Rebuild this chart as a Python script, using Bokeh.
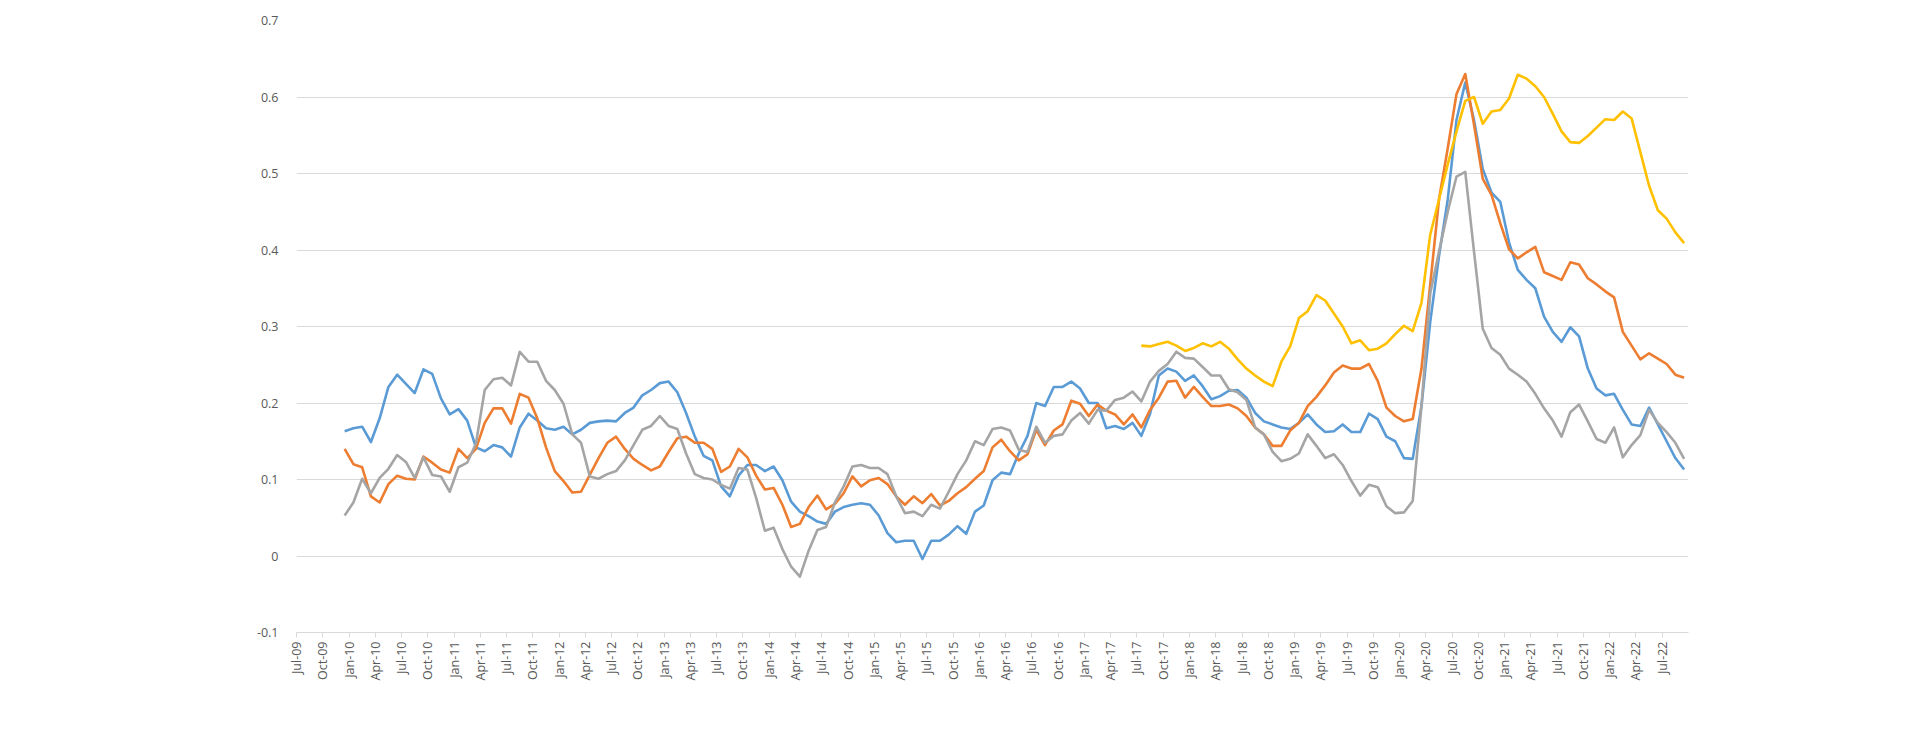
import math
from bokeh.plotting import figure
from bokeh.models import Legend, LegendItem, FixedTicker, Range1d
from bokeh.embed import file_html
from bokeh.resources import INLINE

# month labels: index 0 = Jul-09
MONTHS = ["Jan", "Feb", "Mar", "Apr", "May", "Jun", "Jul", "Aug", "Sep", "Oct", "Nov", "Dec"]
tick_index = list(range(0, 157, 3))
tick_labels = [f"{MONTHS[(6 + i) % 12]}-{(9 + (6 + i) // 12):02d}" for i in tick_index]

start_index = 5  # Dec-09

cnn = [0.163, 0.167, 0.169, 0.149, 0.180, 0.221, 0.237, 0.225, 0.213, 0.244, 0.238, 0.206,
       0.185, 0.192, 0.177, 0.142, 0.137, 0.145, 0.142, 0.130, 0.168, 0.186, 0.177, 0.167,
       0.165, 0.169, 0.159, 0.165, 0.174, 0.176, 0.177, 0.176, 0.187, 0.194, 0.210, 0.217,
       0.226, 0.228, 0.214, 0.187, 0.156, 0.131, 0.125, 0.091, 0.078, 0.105, 0.119, 0.119,
       0.111, 0.117, 0.099, 0.071, 0.058, 0.052, 0.045, 0.042,
       0.058, 0.064, 0.067, 0.069, 0.067, 0.053, 0.030, 0.018, 0.020, 0.020, -0.004, 0.020,
       0.020, 0.028, 0.039, 0.029, 0.058, 0.066, 0.099, 0.109, 0.107, 0.134, 0.157, 0.200,
       0.196, 0.221, 0.221, 0.228, 0.219, 0.200, 0.200, 0.167, 0.170, 0.166, 0.174, 0.157,
       0.186, 0.236, 0.245, 0.241, 0.229, 0.236, 0.222, 0.205, 0.209, 0.216, 0.217, 0.207,
       0.187, 0.176, 0.172, 0.168, 0.166, 0.174, 0.185, 0.172, 0.162, 0.163, 0.172, 0.162,
       0.162, 0.186,
       0.179, 0.156, 0.150, 0.128, 0.127, 0.196, 0.306, 0.392, 0.466, 0.570, 0.619, 0.570,
       0.506, 0.475, 0.463, 0.410, 0.374, 0.361, 0.350, 0.313, 0.293, 0.280, 0.299, 0.287,
       0.245, 0.219, 0.210, 0.212, 0.191, 0.172, 0.170, 0.194, 0.172, 0.150, 0.128, 0.113]

msnbc = [0.140, 0.120, 0.116, 0.078, 0.070, 0.094, 0.105, 0.101, 0.100, 0.130, 0.122, 0.113,
         0.109, 0.140, 0.128, 0.140, 0.174, 0.193, 0.193, 0.173, 0.212, 0.207, 0.180, 0.142,
         0.111, 0.098, 0.083, 0.084, 0.106, 0.128, 0.148, 0.156, 0.140, 0.127, 0.119, 0.112,
         0.117, 0.136, 0.154, 0.156, 0.148, 0.148, 0.140, 0.110, 0.117, 0.140, 0.129, 0.105,
         0.087, 0.089, 0.067, 0.038, 0.042, 0.064, 0.079, 0.061,
         0.068, 0.082, 0.104, 0.091, 0.099, 0.102, 0.094, 0.078, 0.067, 0.078, 0.069, 0.081,
         0.066, 0.072, 0.082, 0.090, 0.101, 0.111, 0.142, 0.152, 0.137, 0.125, 0.133, 0.165,
         0.145, 0.164, 0.172, 0.203, 0.199, 0.183, 0.198, 0.190, 0.185, 0.172, 0.185, 0.168,
         0.191, 0.207, 0.228, 0.229, 0.207, 0.221, 0.208, 0.196, 0.196, 0.198, 0.193, 0.183,
         0.168, 0.159, 0.144, 0.144, 0.164, 0.174, 0.196, 0.208, 0.223, 0.240, 0.249, 0.245,
         0.245, 0.251,
         0.229, 0.194, 0.183, 0.176, 0.179, 0.245, 0.355, 0.466, 0.533, 0.604, 0.630, 0.564,
         0.493, 0.472, 0.435, 0.401, 0.389, 0.397, 0.404, 0.371, 0.366, 0.361, 0.384, 0.381,
         0.363, 0.355, 0.346, 0.338, 0.293, 0.275, 0.257, 0.265, 0.258, 0.251, 0.237, 0.233]

fox = [0.053, 0.070, 0.101, 0.082, 0.102, 0.114, 0.132, 0.123, 0.102, 0.129, 0.106, 0.104,
       0.084, 0.116, 0.122, 0.147, 0.217, 0.231, 0.233, 0.223, 0.267, 0.254, 0.254, 0.229,
       0.217, 0.199, 0.159, 0.148, 0.104, 0.101, 0.107, 0.111, 0.125, 0.145, 0.165, 0.170,
       0.183, 0.170, 0.166, 0.134, 0.107, 0.102, 0.100, 0.093, 0.088, 0.115, 0.113, 0.076,
       0.033, 0.037, 0.009, -0.014, -0.027, 0.007, 0.034, 0.038,
       0.070, 0.091, 0.117, 0.119, 0.115, 0.115, 0.107, 0.078, 0.056, 0.058, 0.052, 0.067,
       0.062, 0.084, 0.107, 0.125, 0.150, 0.145, 0.166, 0.168, 0.164, 0.139, 0.136, 0.169,
       0.148, 0.157, 0.159, 0.177, 0.187, 0.173, 0.191, 0.190, 0.204, 0.207, 0.215, 0.202,
       0.228, 0.242, 0.251, 0.267, 0.259, 0.258, 0.247, 0.236, 0.236, 0.218, 0.214, 0.204,
       0.168, 0.159, 0.136, 0.124, 0.127, 0.134, 0.159, 0.144, 0.128, 0.133, 0.119, 0.098,
       0.079, 0.093,
       0.090, 0.065, 0.056, 0.057, 0.072, 0.196, 0.343, 0.398, 0.450, 0.496, 0.502, 0.398,
       0.297, 0.272, 0.263, 0.245, 0.237, 0.228, 0.212, 0.193, 0.177, 0.156, 0.188, 0.198,
       0.176, 0.153, 0.148, 0.168, 0.129, 0.145, 0.158, 0.191, 0.174, 0.162, 0.148, 0.127]

bbc_start_index = 96  # Jul-17
bbc = [0.275, 0.274, 0.277, 0.280, 0.275, 0.268, 0.272, 0.278, 0.274, 0.280, 0.271, 0.257,
       0.245, 0.236, 0.228, 0.222, 0.254, 0.274, 0.311, 0.320, 0.341, 0.334, 0.317, 0.300,
       0.278, 0.282, 0.269,
       0.271, 0.278, 0.290, 0.301, 0.294, 0.331, 0.420, 0.466, 0.512, 0.555, 0.595, 0.600,
       0.565, 0.581, 0.583, 0.598, 0.629, 0.624, 0.614, 0.600, 0.578, 0.555, 0.541, 0.540,
       0.549, 0.560, 0.571, 0.570, 0.581, 0.572, 0.528, 0.484, 0.452, 0.441, 0.423, 0.409]

series = [("CNN", cnn, start_index, "#5B9BD5"),
          ("MSNBC", msnbc, start_index, "#ED7D31"),
          ("Fox News", fox, start_index, "#A5A5A5"),
          ("BBC News", bbc, bbc_start_index, "#FFC000")]

FONT = "Open Sans"
TXT = "#595959"

p = figure(frame_width=1392, frame_height=612, output_backend="svg", toolbar_location=None,
           x_range=Range1d(0, 159), y_range=Range1d(-0.1, 0.7),
           min_border_left=296, min_border_top=20, min_border_right=10, min_border_bottom=4)
p.outline_line_color = None
p.background_fill_color = "white"

renderers = []
for name, vals, s0, col in series:
    xs = [s0 + i + 0.5 for i in range(len(vals))]
    r = p.line(xs, vals, line_color=col, line_width=2.6, line_join="round")
    renderers.append((name, r))

p.xaxis.ticker = FixedTicker(ticks=tick_index)
p.xaxis.major_label_overrides = {t: l for t, l in zip(tick_index, tick_labels)}
p.xaxis.major_label_orientation = math.pi / 2
p.xaxis.axis_line_color = "#d9d9d9"
p.xaxis.major_tick_line_color = "#d9d9d9"
p.xaxis.major_tick_in = 0
p.xaxis.major_tick_out = 5
p.xaxis.minor_tick_line_color = None
p.xaxis.major_label_text_font = FONT
p.xaxis.major_label_text_font_size = "12.5px"
p.xaxis.major_label_text_color = TXT
p.xaxis.major_label_standoff = 4
p.xgrid.grid_line_color = None

p.yaxis.ticker = FixedTicker(ticks=[-0.1, 0, 0.1, 0.2, 0.3, 0.4, 0.5, 0.6, 0.7])
p.yaxis.major_label_overrides = {-0.1: "-0.1", 0: "0"}
p.yaxis.axis_line_color = None
p.yaxis.major_tick_line_color = None
p.yaxis.minor_tick_line_color = None
p.yaxis.major_label_text_font = FONT
p.yaxis.major_label_text_font_size = "12.5px"
p.yaxis.major_label_text_color = TXT
p.yaxis.major_label_standoff = 12
p.ygrid.grid_line_color = "#d9d9d9"
p.ygrid.grid_line_width = 1

legend = Legend(items=[LegendItem(label=n, renderers=[r]) for n, r in renderers],
                orientation="horizontal", label_text_font=FONT, label_text_font_size="12.5px",
                label_text_color=TXT, border_line_color=None, glyph_width=24, glyph_height=14,
                spacing=14, label_standoff=4, padding=0, margin=4, label_height=14)
p.add_layout(legend, "below")
legend.location = "center"

open("out.html", "w").write(file_html(p, INLINE))
